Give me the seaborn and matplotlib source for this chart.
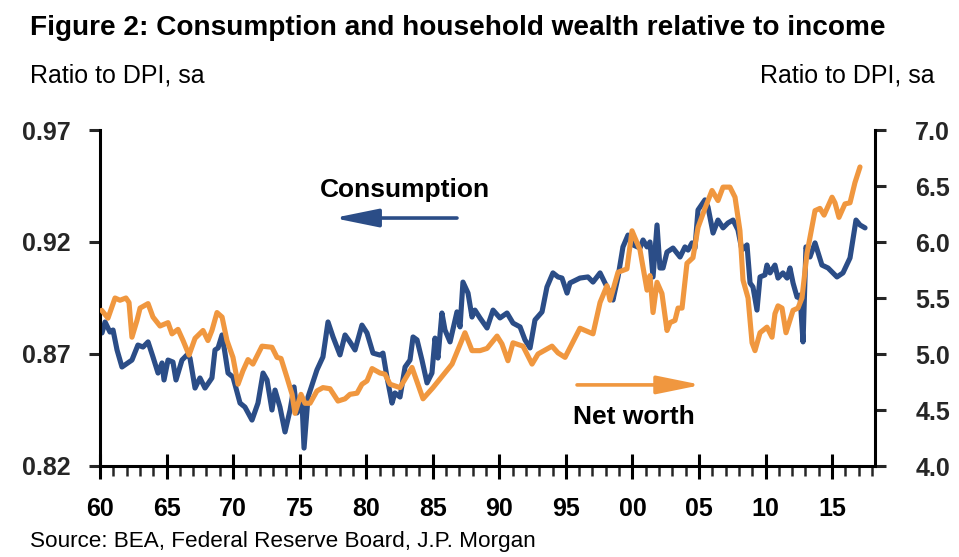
import matplotlib
matplotlib.use("Agg")
import matplotlib.pyplot as plt
import matplotlib.ticker as mticker
from matplotlib import font_manager
import seaborn as sns
import pandas as pd

# ---- data ----
cons_year = [1960.15, 1960.38, 1960.75, 1960.98, 1961.28, 1961.65, 1962.40, 1962.85, 1963.23, 1963.61,
             1963.98, 1964.36, 1964.66, 1964.81, 1965.11, 1965.48, 1965.71, 1966.16, 1966.54, 1966.76,
             1967.14, 1967.51, 1967.89, 1968.41, 1968.64, 1968.87, 1969.17, 1969.39, 1969.62, 1969.99,
             1970.52, 1970.89, 1971.42, 1971.87, 1972.25, 1972.55, 1972.92, 1973.15, 1973.52, 1973.90,
             1974.28, 1974.58, 1974.80, 1975.18, 1975.33, 1975.63, 1976.30, 1976.75, 1977.13, 1977.51,
             1978.03, 1978.41, 1978.78, 1979.16, 1979.68, 1980.06, 1980.51, 1981.04, 1981.26, 1981.56,
             1981.94, 1982.16, 1982.54, 1982.92, 1983.29, 1983.52, 1983.82, 1984.19, 1984.57, 1984.94,
             1985.17, 1985.39, 1985.69, 1985.92, 1986.30, 1986.82, 1987.05, 1987.27, 1987.65, 1987.95,
             1988.17, 1988.55, 1989.08, 1989.53, 1990.05, 1990.58, 1991.03, 1991.56, 1991.93, 1992.31,
             1992.68, 1993.21, 1993.58, 1994.03, 1994.41, 1994.71, 1995.09, 1995.31, 1996.06, 1996.66,
             1997.04, 1997.57, 1997.94, 1998.32, 1998.54, 1998.92, 1999.29, 1999.67, 2000.05, 2000.57,
             2000.80, 2001.10, 2001.32, 2001.55, 2001.85, 2002.07, 2002.30, 2002.60, 2003.05, 2003.58,
             2003.95, 2004.18, 2004.48, 2004.70, 2004.93, 2005.45, 2005.68, 2006.06, 2006.43, 2006.81,
             2007.18, 2007.56, 2007.93, 2008.23, 2008.61, 2008.84, 2009.06, 2009.36, 2009.59, 2009.96,
             2010.11, 2010.34, 2010.71, 2010.94, 2011.31, 2011.62, 2011.84, 2012.07, 2012.37, 2012.59,
             2012.82, 2013.04, 2013.34, 2013.72, 2014.24, 2014.70, 2015.37, 2015.82, 2016.35, 2016.80,
             2017.10, 2017.48]
cons_ratio = [0.8794, 0.8843, 0.8798, 0.8807, 0.8718, 0.8642, 0.8673, 0.8740, 0.8731, 0.8754,
              0.8687, 0.8615, 0.8660, 0.8584, 0.8673, 0.8664, 0.8584, 0.8673, 0.8696, 0.8682,
              0.8548, 0.8593, 0.8548, 0.8593, 0.8718, 0.8727, 0.8785, 0.8704, 0.8615, 0.8597,
              0.8481, 0.8463, 0.8405, 0.8481, 0.8615, 0.8584, 0.8450, 0.8539, 0.8463, 0.8352,
              0.8450, 0.8553, 0.8437, 0.8481, 0.8280, 0.8508, 0.8629, 0.8687, 0.8843, 0.8776,
              0.8696, 0.8785, 0.8754, 0.8718, 0.8829, 0.8794, 0.8704, 0.8695, 0.8704, 0.8597,
              0.8481, 0.8526, 0.8508, 0.8642, 0.8673, 0.8776, 0.8763, 0.8673, 0.8571, 0.8615,
              0.8771, 0.8682, 0.8883, 0.8807, 0.8754, 0.8888, 0.8821, 0.9021, 0.8972, 0.8865,
              0.8896, 0.8861, 0.8816, 0.8896, 0.8861, 0.8883, 0.8838, 0.8821, 0.8763, 0.8727,
              0.8852, 0.8888, 0.8999, 0.9062, 0.9044, 0.9039, 0.8972, 0.9017, 0.9039, 0.9044,
              0.9021, 0.9062, 0.9017, 0.8972, 0.8941, 0.9044, 0.9178, 0.9231, 0.9187, 0.9173,
              0.9209, 0.9178, 0.9200, 0.9044, 0.9276, 0.9084, 0.9084, 0.9155, 0.9173, 0.9133,
              0.9178, 0.9164, 0.9196, 0.9173, 0.9343, 0.9388, 0.9356, 0.9240, 0.9298, 0.9263,
              0.9285, 0.9298, 0.9254, 0.9164, 0.9187, 0.9017, 0.8999, 0.8896, 0.9044, 0.9053,
              0.9097, 0.9062, 0.9097, 0.9039, 0.9062, 0.9039, 0.9084, 0.9017, 0.8954, 0.8963,
              0.8754, 0.9178, 0.9133, 0.9196, 0.9097, 0.9084, 0.9044, 0.9062, 0.9129, 0.9298,
              0.9276, 0.9263]

nw_year = [1960.13, 1960.60, 1961.13, 1961.50, 1961.95, 1962.18, 1962.40, 1962.78, 1963.01, 1963.61,
           1963.98, 1964.51, 1965.11, 1965.41, 1965.86, 1966.24, 1966.69, 1967.14, 1967.74, 1968.11,
           1968.41, 1968.79, 1969.17, 1969.54, 1969.99, 1970.37, 1970.74, 1971.12, 1971.49, 1972.17,
           1972.92, 1973.30, 1973.60, 1974.05, 1974.43, 1974.65, 1975.10, 1975.40, 1975.78, 1976.30,
           1976.75, 1977.28, 1977.88, 1978.41, 1978.78, 1979.31, 1979.68, 1980.06, 1980.44, 1981.04,
           1981.41, 1981.79, 1982.54, 1983.44, 1984.27, 1985.02, 1986.45, 1987.42, 1987.95, 1988.55,
           1989.08, 1989.83, 1990.20, 1990.65, 1991.03, 1991.78, 1992.46, 1992.91, 1993.96, 1994.41,
           1994.94, 1996.06, 1997.04, 1997.57, 1998.09, 1998.32, 1998.92, 1999.59, 1999.97, 2000.57,
           2001.10, 2001.32, 2001.55, 2001.85, 2002.22, 2002.60, 2002.83, 2003.20, 2003.43, 2003.73,
           2004.10, 2004.55, 2004.93, 2005.45, 2005.98, 2006.43, 2006.81, 2007.33, 2007.71, 2008.08,
           2008.31, 2008.69, 2008.99, 2009.21, 2009.59, 2010.11, 2010.49, 2010.71, 2010.94, 2011.24,
           2011.54, 2012.07, 2012.44, 2012.74, 2013.12, 2013.72, 2014.09, 2014.40, 2015.00, 2015.22,
           2015.52, 2015.97, 2016.35, 2016.72, 2017.10]
nw_ratio = [5.39, 5.32, 5.50, 5.48, 5.50, 5.46, 5.15, 5.30, 5.41, 5.45,
            5.33, 5.25, 5.28, 5.18, 5.22, 5.12, 4.99, 5.14, 5.21, 5.12,
            5.21, 5.37, 5.33, 5.12, 4.97, 4.73, 4.85, 4.95, 4.91, 5.07,
            5.06, 4.97, 4.96, 4.79, 4.64, 4.47, 4.64, 4.56, 4.56, 4.67,
            4.70, 4.69, 4.58, 4.60, 4.64, 4.65, 4.73, 4.76, 4.87, 4.83,
            4.82, 4.73, 4.70, 4.88, 4.60, 4.70, 4.91, 5.19, 5.03, 5.03,
            5.05, 5.16, 5.09, 4.94, 5.10, 5.07, 4.91, 5.00, 5.07, 5.01,
            4.97, 5.23, 5.18, 5.46, 5.61, 5.48, 5.73, 5.76, 6.10, 5.93,
            5.57, 5.70, 5.37, 5.64, 5.54, 5.21, 5.28, 5.30, 5.41, 5.41,
            5.81, 5.86, 6.13, 6.30, 6.46, 6.37, 6.49, 6.49, 6.40, 6.10,
            5.66, 5.50, 5.10, 5.03, 5.19, 5.24, 5.15, 5.36, 5.43, 5.41,
            5.19, 5.39, 5.41, 5.50, 5.90, 6.28, 6.30, 6.24, 6.40, 6.35,
            6.22, 6.34, 6.35, 6.53, 6.67]

left_ticks = [0.82, 0.87, 0.92, 0.97]
right_ticks = [4.0, 4.5, 5.0, 5.5, 6.0, 6.5, 7.0]
year_ticks = [1960, 1965, 1970, 1975, 1980, 1985, 1990, 1995, 2000, 2005, 2010, 2015]
year_labels = ["60", "65", "70", "75", "80", "85", "90", "95", "00", "05", "10", "15"]

title = "Figure 2: Consumption and household wealth relative to income"
axis_label = "Ratio to DPI, sa"
source = "Source: BEA, Federal Reserve Board, J.P. Morgan"

BLUE = "#2B4D87"
ORANGE = "#F0973F"

# ---- style ----
sns.set_theme(style="white")
available = {f.name for f in font_manager.fontManager.ttflist}
fams = [f for f in ["Liberation Sans Narrow", "Liberation Sans", "DejaVu Sans"] if f in available]
plt.rcParams["font.family"] = fams

fig = plt.figure(figsize=(9.59, 5.57), dpi=100)
ax = fig.add_axes([100 / 959, 1 - 466 / 557, 775 / 959, 336 / 557])
ax2 = ax.twinx()

cons_df = pd.DataFrame({"year": cons_year, "ratio": cons_ratio})
nw_df = pd.DataFrame({"year": nw_year, "ratio": nw_ratio})

sns.lineplot(data=nw_df, x="year", y="ratio", ax=ax2, color=ORANGE, lw=3.7,
             estimator=None, sort=False)
sns.lineplot(data=cons_df, x="year", y="ratio", ax=ax, color=BLUE, lw=3.7,
             estimator=None, sort=False)
ax.set_zorder(1)
ax2.set_zorder(2)
ax.patch.set_visible(False)
ax2.patch.set_visible(False)

xmax = 1960 + 775 / 13.31
ax.set_xlim(1960, xmax)
ax.set_ylim(0.82, 0.97)
ax2.set_ylim(4.0, 7.0)

ax.set_xticks(year_ticks)
ax.set_xticklabels(year_labels)
ax.xaxis.set_minor_locator(mticker.MultipleLocator(1))
ax.set_yticks(left_ticks)
ax.yaxis.set_major_formatter(mticker.FormatStrFormatter("%.2f"))
ax2.set_yticks(right_ticks)
ax2.yaxis.set_major_formatter(mticker.FormatStrFormatter("%.1f"))

for a in (ax, ax2):
    a.set_xlabel("")
    a.set_ylabel("")
    for s in a.spines.values():
        s.set_linewidth(2.2)
        s.set_color("black")
    a.spines["top"].set_visible(False)
    a.grid(False)

ax.spines["right"].set_visible(False)
ax2.spines["left"].set_visible(False)
ax2.spines["bottom"].set_visible(False)

ax.tick_params(axis="x", which="major", direction="inout", length=18, width=2.2,
               pad=13, labelsize=18, colors="black", bottom=True)
ax.tick_params(axis="x", which="minor", direction="out", length=7, width=1.8, bottom=True)
ax.tick_params(axis="y", which="major", direction="out", length=8, width=2.2,
               pad=13, labelsize=18, left=True)
ax2.tick_params(axis="y", which="major", direction="out", length=8, width=2.2,
                pad=21, labelsize=18, right=True)
for lab in ax.get_xticklabels() + ax.get_yticklabels() + ax2.get_yticklabels():
    lab.set_fontweight("bold")

# annotations
ax.annotate("", xy=(1977.55, 0.9307), xytext=(1986.82, 0.9307),
            arrowprops=dict(arrowstyle="-|>,head_length=2.7,head_width=0.55",
                            mutation_scale=10, lw=2.6, color=BLUE, shrinkA=0, shrinkB=0))
ax.text(1982.92, 0.9432, "Consumption", ha="center", va="center",
        fontsize=19, fontweight="bold", color="black")
ax.annotate("", xy=(2005.2, 0.8562), xytext=(1995.84, 0.8562),
            arrowprops=dict(arrowstyle="-|>,head_length=2.7,head_width=0.55",
                            mutation_scale=10, lw=2.6, color=ORANGE, shrinkA=0, shrinkB=0))
ax.text(2000.12, 0.8419, "Net worth", ha="center", va="center",
        fontsize=19, fontweight="bold", color="black")

fig.text(30 / 959, 1 - 28 / 557, title, ha="left", va="center",
         fontsize=20.2, fontweight="bold", color="black")
fig.text(30 / 959, 1 - 76 / 557, axis_label, ha="left", va="center",
         fontsize=18, color="black")
fig.text(935 / 959, 1 - 76 / 557, axis_label, ha="right", va="center",
         fontsize=18, color="black")
fig.text(30 / 959, 1 - 542 / 557, source, ha="left", va="center",
         fontsize=16.2, color="black")

fig.savefig("out.png", dpi=100)
